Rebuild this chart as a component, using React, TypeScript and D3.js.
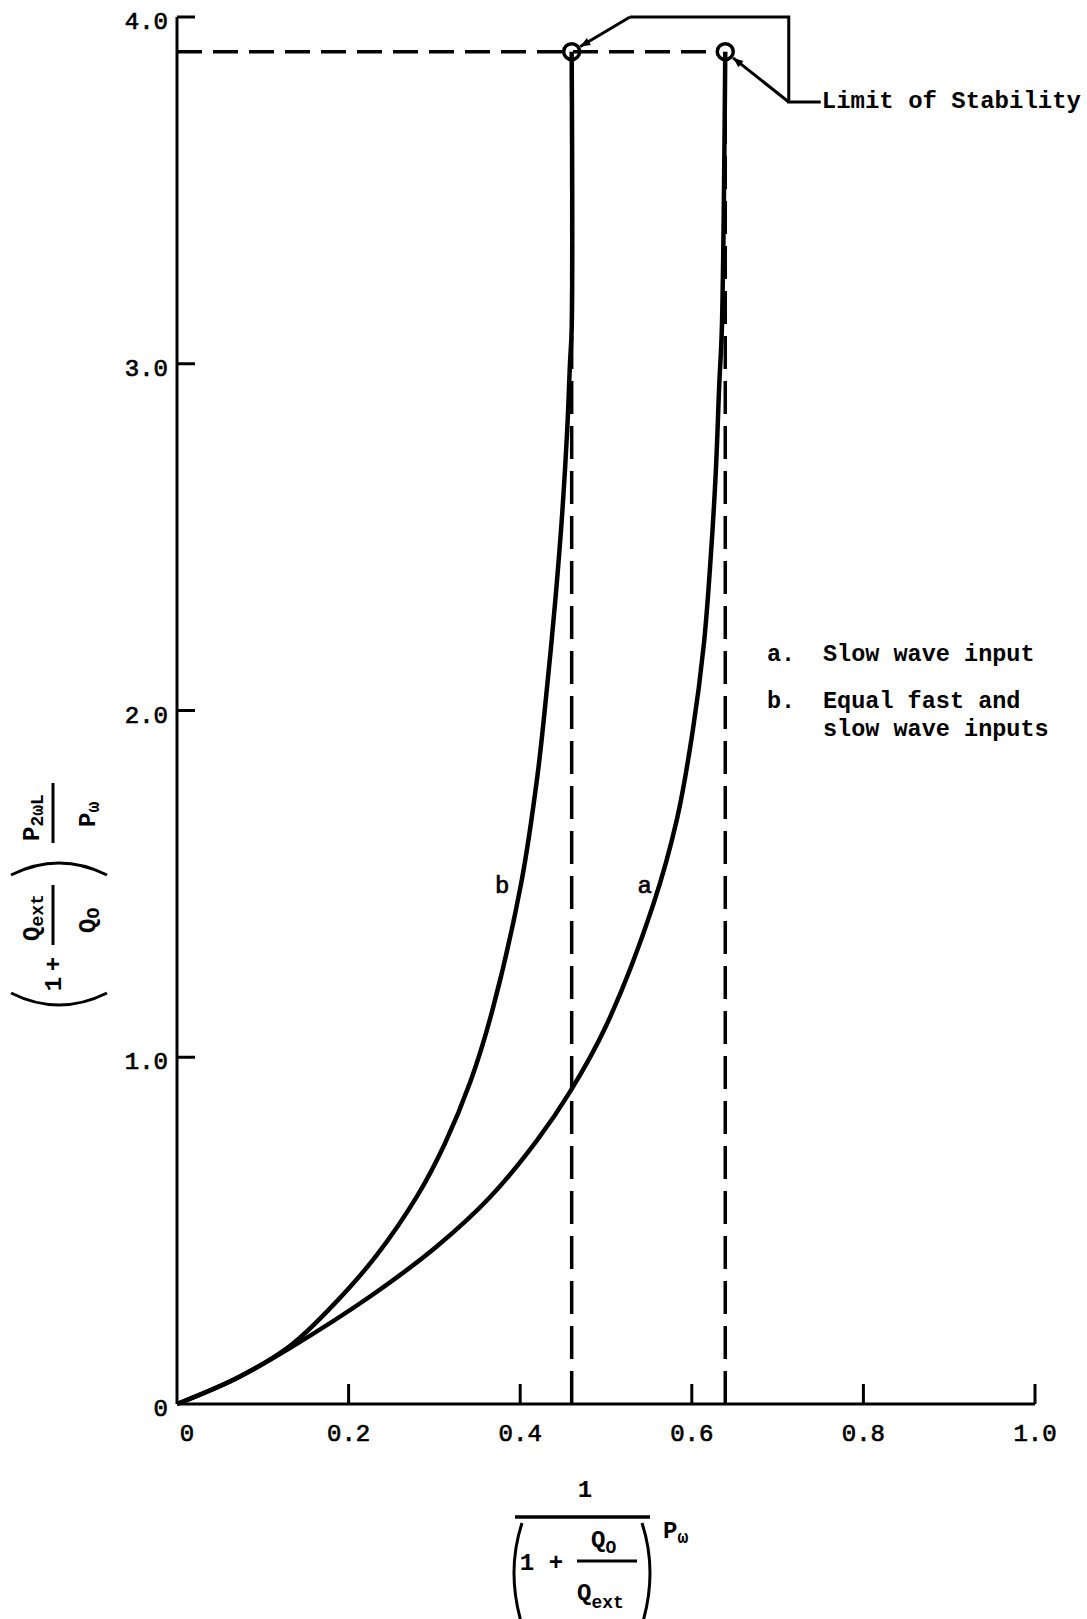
import { useMemo } from "react";
import * as d3 from "d3";

// values
const X_TICKS = [0.2, 0.4, 0.6, 0.8, 1.0];
const X_TICK_LABELS = ["0", "0.2", "0.4", "0.6", "0.8", "1.0"];
const X_LABEL_VALUES = [0, 0.2, 0.4, 0.6, 0.8, 1.0];
const Y_TICKS = [1, 2, 3, 4];
const Y_TICK_LABELS = ["0", "1.0", "2.0", "3.0", "4.0"];
const Y_LABEL_VALUES = [0, 1, 2, 3, 4];

// curve a: slow wave input
const curveA: [number, number][] = [
  [0, 0], [0.07, 0.075], [0.132, 0.162], [0.225, 0.31], [0.303, 0.455],
  [0.365, 0.597], [0.42, 0.762], [0.458, 0.9], [0.5, 1.09], [0.555, 1.44],
  [0.583, 1.69], [0.601, 1.94], [0.614, 2.19], [0.622, 2.44], [0.628, 2.69],
  [0.632, 2.94], [0.635, 3.1], [0.639, 3.9],
];

// curve b: equal fast and slow wave inputs
const curveB: [number, number][] = [
  [0, 0], [0.07, 0.075], [0.132, 0.168], [0.18, 0.28], [0.233, 0.43],
  [0.28, 0.6], [0.312, 0.75], [0.342, 0.93], [0.367, 1.13], [0.401, 1.5],
  [0.42, 1.81], [0.431, 2.06], [0.441, 2.32], [0.449, 2.57], [0.455, 2.82],
  [0.458, 3.0], [0.46, 3.1], [0.46, 3.9],
];

const LIMIT_X = [0.46, 0.639]; // b, a
const LIMIT_Y = 3.9;

const CURVE_NAMES = ["a", "b"];
const LEGEND_KEYS = ["a.", "b."];
const LEGEND_TEXT = [["Slow wave input"], ["Equal fast and", "slow wave inputs"]];
const CALLOUT_TEXT = "Limit of Stability";

const W = 1087;
const H = 1619;
const MONO = '"Liberation Mono", "DejaVu Sans Mono", monospace';

export default function App() {
  const x = d3.scaleLinear().domain([0, 1]).range([177, 1035]);
  const y = d3.scaleLinear().domain([0, 4]).range([1404, 17]);

  const paths = useMemo(() => {
    const line = d3
      .line<[number, number]>()
      .x((d) => x(d[0]))
      .y((d) => y(d[1]))
      .curve(d3.curveCatmullRom.alpha(0.5));
    return [line(curveA), line(curveB)];
  }, []);

  // callout geometry in data units
  const cTop = 4.0;
  const cLeft = 0.528;
  const cRight = 0.713;
  const cElbow = 3.755;
  const R = 8;

  const towards = (fx: number, fy: number, tx: number, ty: number, off: number) => {
    const dx = fx - tx;
    const dy = fy - ty;
    const len = Math.hypot(dx, dy);
    return [tx + (dx / len) * off, ty + (dy / len) * off];
  };
  const [bx, by] = towards(x(cLeft), y(cTop), x(LIMIT_X[0]), y(LIMIT_Y), R + 2);
  const [ax, ay] = towards(x(cRight), y(cElbow), x(LIMIT_X[1]), y(LIMIT_Y), R + 2);

  const labelPos: [number, number][] = [
    [0.545, 1.49],
    [0.379, 1.49],
  ];

  return (
    <svg
      width={W}
      height={H}
      style={{ position: "absolute", left: 0, top: 0, background: "#fff" }}
      fontFamily={MONO}
    >
      <defs>
        <marker
          id="arr"
          viewBox="0 0 10 10"
          refX="10"
          refY="5"
          markerUnits="userSpaceOnUse"
          markerWidth="16"
          markerHeight="10"
          orient="auto"
        >
          <path d="M0,1 L10,5 L0,9 Z" fill="#000" />
        </marker>
      </defs>
      <rect width={W} height={H} fill="#fff" />

      {/* dashed limit lines */}
      <line
        x1={x(0)} x2={x(LIMIT_X[1]) - R} y1={y(LIMIT_Y)} y2={y(LIMIT_Y)}
        stroke="#000" strokeWidth={3.5} strokeDasharray="25 11"
      />
      {LIMIT_X.map((lx, i) => (
        <line
          key={i}
          x1={x(lx)} x2={x(lx)} y1={y(0)} y2={y(LIMIT_Y) + R}
          stroke="#000" strokeWidth={3.5} strokeDasharray="33 12"
        />
      ))}

      {/* axes */}
      <line x1={x(0)} x2={x(0)} y1={y(0)} y2={y(4)} stroke="#000" strokeWidth={3} />
      <line x1={x(0)} x2={x(1)} y1={y(0)} y2={y(0)} stroke="#000" strokeWidth={3} />
      {Y_TICKS.map((t) => (
        <line key={t} x1={x(0)} x2={x(0) + 18} y1={y(t)} y2={y(t)} stroke="#000" strokeWidth={3} />
      ))}
      {X_TICKS.map((t) => (
        <line key={t} x1={x(t)} x2={x(t)} y1={y(0)} y2={y(0) - 20} stroke="#000" strokeWidth={3} />
      ))}
      <g fontSize={24} stroke="#000" strokeWidth={0.7}>
        {Y_LABEL_VALUES.map((t, i) => (
          <text key={t} x={x(0) - 9} y={y(t) + 12} textAnchor="end">
            {Y_TICK_LABELS[i]}
          </text>
        ))}
        {X_LABEL_VALUES.map((t, i) => (
          <text key={t} x={x(t) + (t === 0 ? 10 : 0)} y={y(0) + 37} textAnchor="middle">
            {X_TICK_LABELS[i]}
          </text>
        ))}
      </g>

      {/* curves */}
      {paths.map((p, i) => (
        <path key={i} d={p || undefined} fill="none" stroke="#000" strokeWidth={4.5} />
      ))}
      {CURVE_NAMES.map((n, i) => (
        <text
          key={n} x={x(labelPos[i][0])} y={y(labelPos[i][1]) + 6}
          fontSize={24} textAnchor="middle" stroke="#000" strokeWidth={0.7}
        >
          {n}
        </text>
      ))}

      {/* limit circles */}
      {LIMIT_X.map((lx, i) => (
        <circle key={i} cx={x(lx)} cy={y(LIMIT_Y)} r={R} fill="none" stroke="#000" strokeWidth={3.5} />
      ))}

      {/* callout */}
      <polyline
        points={`${x(cLeft)},${y(cTop)} ${x(cRight)},${y(cTop)} ${x(cRight)},${y(cElbow)} ${x(cRight) + 32},${y(cElbow)}`}
        fill="none" stroke="#000" strokeWidth={3}
      />
      <line x1={x(cLeft)} y1={y(cTop)} x2={bx} y2={by} stroke="#000" strokeWidth={3} markerEnd="url(#arr)" />
      <line x1={x(cRight)} y1={y(cElbow)} x2={ax} y2={ay} stroke="#000" strokeWidth={3} markerEnd="url(#arr)" />
      <text x={x(cRight) + 33} y={y(cElbow) + 6} fontSize={24} fontWeight="bold">
        {CALLOUT_TEXT}
      </text>

      {/* legend */}
      {LEGEND_KEYS.map((k, i) => {
        const base = i === 0 ? 661 : 708;
        return (
          <g key={k} fontSize={23.5} fontWeight="bold">
            <text x={767} y={base}>{k}</text>
            {LEGEND_TEXT[i].map((t, j) => (
              <text key={j} x={823} y={base + j * 28}>{t}</text>
            ))}
          </g>
        );
      })}

      {/* y axis title */}
      <g transform="translate(53, 893) rotate(-90)" fontSize={24} fontWeight="bold">
        <path d="M -100 -42 Q -124 6 -100 54" fill="none" stroke="#000" strokeWidth={3} />
        <text x={-91} y={8} textAnchor="middle">1</text>
        <text x={-71} y={8} textAnchor="middle">+</text>
        <line x1={-52} x2={8} y1={0} y2={0} stroke="#000" strokeWidth={3} />
        <text x={-48} y={-14}>Q<tspan fontSize={18} dy={4}>ext</tspan></text>
        <text x={-40} y={42}>Q<tspan fontSize={18} dy={4}>O</tspan></text>
        <path d="M 18 -42 Q 42 6 18 54" fill="none" stroke="#000" strokeWidth={3} />
        <line x1={50} x2={110} y1={0} y2={0} stroke="#000" strokeWidth={3} />
        <text x={52} y={-14}>P<tspan fontSize={18} dy={4}>2ωL</tspan></text>
        <text x={66} y={42}>P<tspan fontSize={18} dy={4}>ω</tspan></text>
      </g>

      {/* x axis title */}
      <g fontSize={24} fontWeight="bold">
        <text x={585} y={1497} textAnchor="middle">1</text>
        <line x1={515} x2={650} y1={1517} y2={1517} stroke="#000" strokeWidth={3.5} />
        <text x={663} y={1538}>P<tspan fontSize={18} dy={5}>ω</tspan></text>
        <path d="M 522 1523 Q 506 1572 522 1625" fill="none" stroke="#000" strokeWidth={3} />
        <path d="M 642 1523 Q 658 1572 642 1625" fill="none" stroke="#000" strokeWidth={3} />
        <text x={527} y={1570} textAnchor="middle">1</text>
        <text x={556} y={1570} textAnchor="middle">+</text>
        <line x1={577} x2={637} y1={1561} y2={1561} stroke="#000" strokeWidth={3} />
        <text x={591} y={1547}>Q<tspan fontSize={18} dy={6}>O</tspan></text>
        <text x={577} y={1600}>Q<tspan fontSize={18} dy={8}>ext</tspan></text>
      </g>
    </svg>
  );
}
